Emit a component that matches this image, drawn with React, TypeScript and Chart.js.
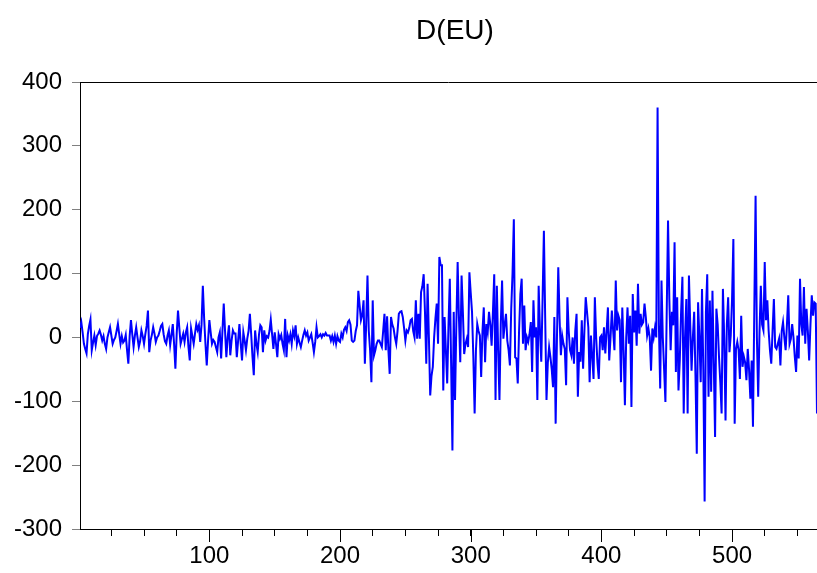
import React, { useEffect, useRef } from "react";
import { Chart, registerables } from "chart.js";

Chart.register(...registerables);

const TITLE = "D(EU)";
const Y_MIN = -300;
const Y_MAX = 400;
const Y_STEP = 100;
const X_MIN = 1;
const X_MAX = 565;
const X_MINOR_TICKS = [25, 50, 75, 100, 125, 150, 175, 200, 225, 250, 275, 300, 325, 350, 375, 400, 425, 450, 475, 500, 525, 550];
const X_MAJOR_TICKS = [100, 200, 300, 400, 500];

// D(EU) values, observation 1..565
const VALUES: number[] = [
  15, 24, 8, -10, -18, -25, 5, 18, 28, -20,
  -8, 3, -12, 2, 6, 11, 4, -5, 2, -10,
  -18, 0, 8, 16, 3, -10, -4, 0, 10, 21,
  5, -10, 2, -8, -5, 4, -20, -41, 2, 27,
  5, -15, 3, 16, 0, -15, -6, 11, 2, -10,
  5, 18, 42, -23, -5, 4, 16, 6, -7, 0,
  3, 10, 18, 21, 5, -6, -10, 3, 11, -12,
  4, 21, -10, -49, 6, 42, 15, -10, -2, 6,
  -7, 8, 16, -15, -36, 14, 2, -10, 6, 21,
  12, 19, -7, 20, 81, 30, -10, -44, -5, 27,
  8, -10, -4, -7, -15, -23, 0, 8, -33, 10,
  53, 10, -31, 0, 19, -28, -5, 11, 6, 6,
  -31, -5, 21, -10, -36, 8, -5, -20, -2, 10,
  37, 5, -30, -59, 11, -10, -23, 5, 19, 16,
  -23, 11, -5, 2, 0, 10, 28, 5, -18, 8,
  -10, -31, 5, -2, 4, -10, -20, 29, -31, 3,
  -5, 5, -10, 11, 2, 19, -10, 0, -8, -15,
  -5, 4, 11, 3, 8, -5, 0, 5, -8, -23,
  -7, 16, 0, 2, 5, 0, 5, 3, 7, 3,
  3, 3, -5, 2, -7, 3, -10, 2, -5, -7,
  6, 0, 12, 16, 10, 24, 27, 20, -5, -7,
  -5, 10, 19, 73, 50, 27, 35, 58, -41, 20,
  97, 10, -20, -70, 58, -28, -20, -10, -5, -5,
  -10, -15, 10, 37, -20, 33, -20, -57, 32, 20,
  14, 0, -10, 10, 37, 40, 41, 32, 15, -5,
  11, 8, 15, 27, 29, 10, 0, 58, -2, 37,
  -2, 71, 80, 99, 40, -41, 84, 0, -91, -60,
  -46, 0, 30, 53, -10, 126, 113, 113, -83, 32,
  -20, -72, 20, 92, -40, -177, 40, -98, 20, 118,
  30, -39, 97, 40, -26, -10, -2, -15, 102, 70,
  40, -30, -119, -20, 21, 10, 3, -62, 10, 47,
  -39, 21, 8, 40, 20, -13, 40, 99, -98, 81,
  -20, -98, 20, 89, -2, 20, 37, -5, -20, -44,
  45, 100, 185, -31, -33, -72, 10, 68, 92, -10,
  50, -20, 0, -7, 5, 24, -54, 58, 0, 16,
  -98, 81, 10, -38, 60, 167, 30, -98, -40, -15,
  -31, -50, -78, 32, -135, 0, 110, 30, -28, 3,
  -10, -18, -75, 63, 10, -20, -28, 0, -41, 10,
  37, -93, -23, -38, 27, -49, 10, 63, 40, 16,
  -70, 3, -30, -65, 63, 0, -40, -65, 0, 3,
  -20, 16, -25, 10, 47, -36, 0, 42, 10, -20,
  89, 11, 34, 27, -70, 47, -20, -106, 0, 47,
  -10, 34, -109, 68, 8, 42, -13, 84, 6, 37,
  20, 24, 53, 32, 3, 14, 0, -52, 14, 0,
  15, 0, 360, 20, -80, 89, 0, -50, -101, 40,
  183, 60, -20, 40, 19, 149, -54, 63, -83, -36,
  40, 95, -119, 0, 60, -119, 97, 20, -52, 0,
  40, -60, -182, 55, 0, -70, 76, -50, -257, 40,
  99, -93, 58, -85, 73, -40, -156, 45, 20, -30,
  -70, -119, 76, 0, -130, 20, 63, -23, 3, 60,
  154, -135, -18, -7, -20, -65, 34, -46, -30, -39,
  -67, -18, -50, -96, -36, -140, 40, 222, 0, -93,
  8, 81, 20, 11, 118, 27, 58, 10, -20, -41,
  10, 60, -15, -18, -10, -2, -44, 10, 24, 0,
  -20, 20, 66, -10, -2, 21, 0, -30, -54, 3,
  -33, 92, 20, 3, 79, -10, 45, 10, -36, 20,
  66, 34, 55, 53, -119,
];

const FONT_FAMILY = '"Liberation Sans", Arial, sans-serif';

const decorPlugin = {
  id: "eviewsDecor",
  afterDraw(chart: any) {
    const { ctx, chartArea: a, scales } = chart;
    const x = scales.x;
    ctx.save();
    ctx.strokeStyle = "#000";
    ctx.lineWidth = 1;
    ctx.beginPath();
    ctx.moveTo(a.left, Math.round(a.top) + 0.5);
    ctx.lineTo(a.right, Math.round(a.top) + 0.5);
    ctx.stroke();
    for (const v of X_MAJOR_TICKS) {
      const px = Math.round(x.getPixelForValue(v)) + 0.5;
      ctx.beginPath();
      ctx.moveTo(px, a.bottom);
      ctx.lineTo(px, a.bottom + 13);
      ctx.stroke();
    }
    ctx.fillStyle = "#000";
    ctx.font = `28px ${FONT_FAMILY}`;
    ctx.textAlign = "center";
    ctx.textBaseline = "middle";
    ctx.fillText(TITLE, 455, 31);
    ctx.restore();
  },
};

export default function App() {
  const ref = useRef<HTMLCanvasElement | null>(null);
  useEffect(() => {
    if (!ref.current) return;
    const points = VALUES.map((v, i) => ({ x: X_MIN + i, y: v }));
    const chart = new Chart(ref.current, {
      type: "line",
      data: {
        datasets: [
          {
            data: points,
            borderColor: "#0000ff",
            borderWidth: 2,
            pointRadius: 0,
            tension: 0,
            fill: false,
          },
        ],
      },
      options: {
        animation: false,
        responsive: false,
        maintainAspectRatio: false,
        events: [],
        layout: { padding: { top: 82, left: 0, right: 0, bottom: 0 } },
        plugins: {
          legend: { display: false },
          title: { display: false },
          tooltip: { enabled: false },
        },
        scales: {
          x: {
            type: "linear",
            min: X_MIN,
            max: X_MAX,
            afterBuildTicks: (scale: any) => {
              scale.ticks = X_MINOR_TICKS.map((v) => ({ value: v }));
            },
            afterFit: (scale: any) => {
              scale.height = 44;
            },
            ticks: {
              autoSkip: false,
              maxRotation: 0,
              minRotation: 0,
              padding: 6,
              color: "#000",
              font: { family: FONT_FAMILY, size: 24 },
              callback: (v: any) => (Number(v) % 100 === 0 ? String(v) : ""),
            },
            grid: {
              display: true,
              drawOnChartArea: false,
              drawTicks: true,
              tickLength: 7,
              color: "#000",
              tickColor: "#000",
            },
            border: { display: true, color: "#000", width: 1 },
          },
          y: {
            type: "linear",
            min: Y_MIN,
            max: Y_MAX,
            afterFit: (scale: any) => {
              scale.width = 80;
            },
            ticks: {
              stepSize: Y_STEP,
              padding: 10,
              color: "#000",
              font: { family: FONT_FAMILY, size: 24 },
            },
            grid: {
              display: true,
              drawOnChartArea: false,
              drawTicks: true,
              tickLength: 8,
              color: "#808080",
              tickColor: "#808080",
            },
            border: { display: true, color: "#000", width: 1 },
          },
        },
      },
      plugins: [decorPlugin],
    });
    return () => chart.destroy();
  }, []);
  return (
    <div style={{ position: "fixed", left: 0, top: 0, width: 817, height: 573, background: "#fff" }}>
      <canvas ref={ref} width={817} height={573} style={{ display: "block", width: 817, height: 573 }} />
    </div>
  );
}
